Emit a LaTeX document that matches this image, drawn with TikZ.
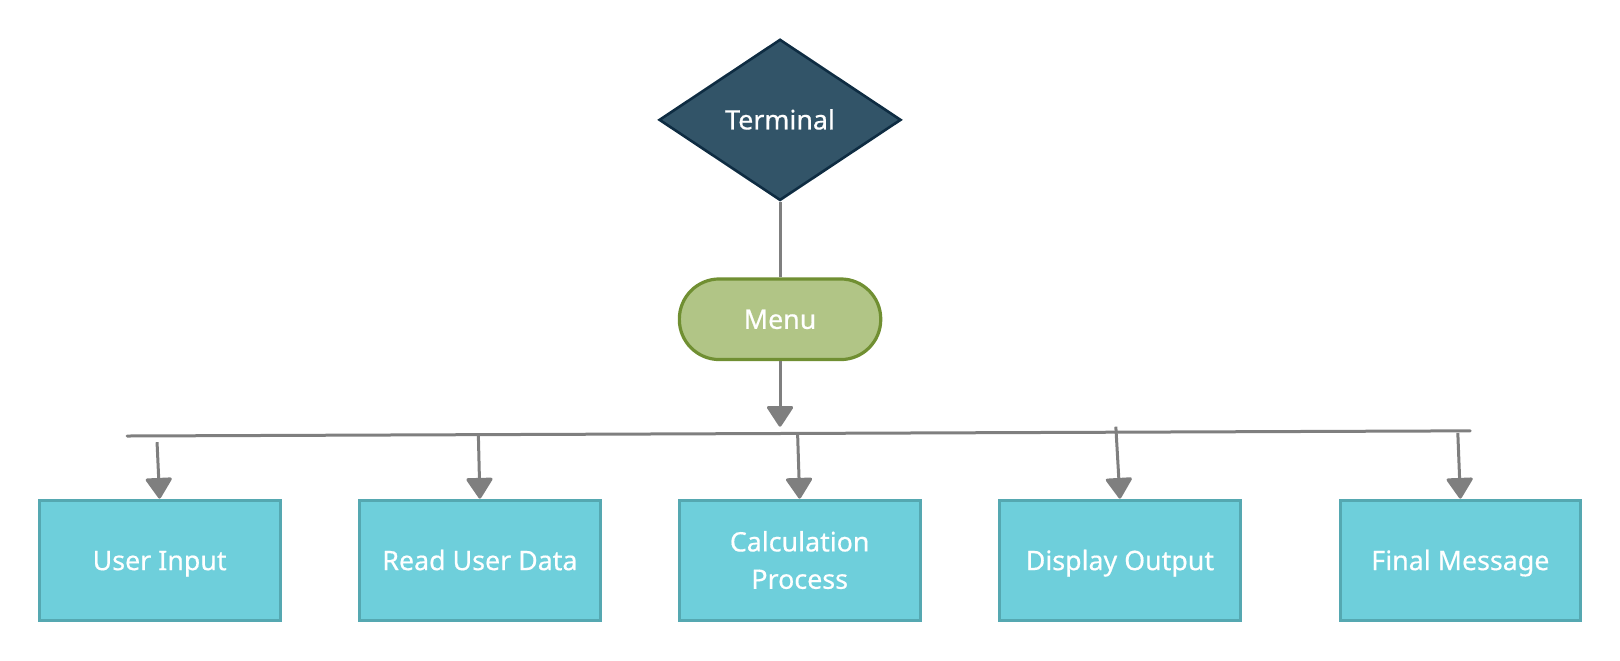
\documentclass[tikz,border=0pt]{standalone}
\usepackage{fontspec}
\setmainfont{Noto Sans}[BoldFont={Noto Sans}, BoldFeatures={FakeBold=0.5}]
\usetikzlibrary{arrows.meta, shapes.geometric, positioning}

\definecolor{termfill}{HTML}{325468}
\definecolor{termline}{HTML}{0E2C42}
\definecolor{menufill}{HTML}{B1C586}
\definecolor{menuline}{HTML}{708F32}
\definecolor{boxfill}{HTML}{6ECFDB}
\definecolor{boxline}{HTML}{55A8B1}
\definecolor{wire}{HTML}{7F7F7F}

\tikzset{
  label font/.style={font=\fontsize{13.4}{18.7}\selectfont\bfseries, text=white,
    text height=9.6pt, text depth=0pt},
  terminal/.style={diamond, draw=termline, fill=termfill, line width=1.3pt,
    minimum width=121pt, minimum height=80.6pt, inner sep=0pt, label font},
  menubox/.style={rectangle, rounded corners=20pt, draw=menuline, fill=menufill,
    line width=1.6pt, minimum width=100.7pt, minimum height=40.3pt, label font},
  stepbox/.style={rectangle, draw=boxline, fill=boxfill, line width=1.5pt,
    minimum width=120.4pt, minimum height=60.4pt, align=center, label font},
  wire/.style={draw=wire, line width=1.5pt}
}

\begin{document}
\begin{tikzpicture}[x=0.5166pt, y=-0.5166pt, >={Triangle[width=14pt,length=11pt,round]}]
    \useasboundingbox (0,0) rectangle (1568,639);
    \node[terminal] (term) at (755,116) {Terminal};
    \node[menubox] (menu) at (755,309) {Menu};
    \node[stepbox] (input) at (154.5,542.5) {User Input};
    \node[stepbox] (read) at (464.5,542.5) {Read User Data};
    \node[stepbox, text height=28.3pt] (calc) at (774,542.5) {Calculation\\Process};
    \node[stepbox] (disp) at (1084,542.5) {Display Output};
    \node[stepbox] (final) at (1413.5,542.5) {Final Message};
% the bus
    \coordinate (busL) at (123,422);
    \coordinate (busR) at (1423,417);
    \coordinate (busM) at (755,413);
    \coordinate (tap1) at (152,428);
    \coordinate (tap2) at (463,421);
    \coordinate (tap3) at (772,420);
    \coordinate (tap4) at (1080,413);
    \coordinate (tap5) at (1411,419);
    \draw[wire](term.south)--(menu.north);
    \draw[wire,->](menu.south)--(busM);
    \draw[wire, line cap=round](busL)--(busR);
    \draw[wire,->](tap1)--(input.north);
    \draw[wire,->](tap2)--(read.north);
    \draw[wire,->](tap3)--(calc.north);
    \draw[wire,->](tap4)--(disp.north);
    \draw[wire,->](tap5)--(final.north);
\end{tikzpicture}
\end{document}
